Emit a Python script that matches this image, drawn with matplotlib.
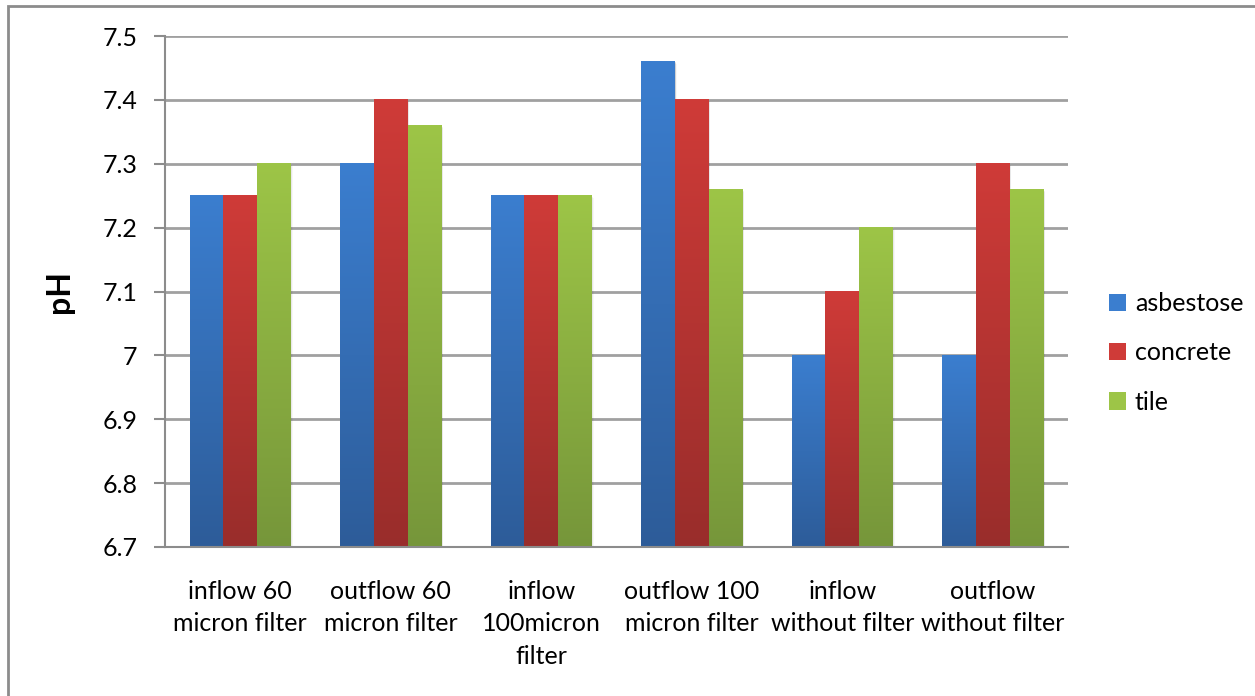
import numpy as np
import matplotlib.pyplot as plt
import matplotlib.patches as mpatches
from matplotlib.colors import LinearSegmentedColormap

plt.rcParams['font.family'] = ['Lato', 'DejaVu Sans']

# pH measurements for each roof material
categories = ['inflow 60\nmicron filter', 'outflow 60\nmicron filter', 'inflow\n100micron\nfilter',
              'outflow 100\nmicron filter', 'inflow\nwithout filter', 'outflow\nwithout filter']
asbestose = [7.25, 7.30, 7.25, 7.46, 7.00, 7.00]
concrete = [7.25, 7.40, 7.25, 7.40, 7.10, 7.30]
tile = [7.30, 7.36, 7.25, 7.26, 7.20, 7.26]
yticks = [6.7, 6.8, 6.9, 7.0, 7.1, 7.2, 7.3, 7.4, 7.5]
yticklabels = ['6.7', '6.8', '6.9', '7', '7.1', '7.2', '7.3', '7.4', '7.5']

series = [('asbestose', asbestose, '#3b7ecf', '#2d5c99'),
          ('concrete', concrete, '#cf3b38', '#992d2b'),
          ('tile', tile, '#9dc547', '#76963a')]

fig = plt.figure(figsize=(12.55, 6.96), dpi=100)
ax = fig.add_axes([0.1315, 0.2141, 0.7195, 0.7341])

# outer chart border (left and top edges visible)
fig.patches.append(mpatches.Rectangle((8 / 1255, -0.1), 1.2, 1.1 - 6 / 696,
                                      transform=fig.transFigure, fill=False,
                                      edgecolor='#8c8c8c', linewidth=2, zorder=0))

x = np.arange(len(categories))
w = 0.224
base = 6.7
grad = np.linspace(0, 1, 256).reshape(-1, 1)

for i, (name, vals, top, bottom) in enumerate(series):
    offs = (i - 1) * w
    heights = [v - base for v in vals]
    bars = ax.bar(x + offs, heights, w, bottom=base, color='none', edgecolor='none',
                  label=name, zorder=3)
    cmap = LinearSegmentedColormap.from_list(name, [bottom, top])
    for b in bars:
        bx, by = b.get_x(), b.get_y()
        bw, bh = b.get_width(), b.get_height()
        # soft shadow to the right
        for k, a in enumerate([0.10, 0.06, 0.03]):
            ax.add_patch(mpatches.Rectangle((bx + 0.004 * (k + 1), by), bw, bh - 0.002 * k,
                                            facecolor='#000000', alpha=a, edgecolor='none',
                                            zorder=2))
        ax.imshow(grad, extent=(bx, bx + bw, by, by + bh), origin='lower', cmap=cmap,
                  aspect='auto', zorder=3 + i * 0.01, interpolation='bilinear')

# legend proxies with the top colour of each gradient
handles = [mpatches.Patch(facecolor=top, edgecolor='none', label=name)
           for name, _, top, _ in series]

ax.set_xlim(-0.5, len(categories) - 0.5)
ax.set_ylim(6.7, 7.5)
ax.set_yticks(yticks)
ax.set_yticklabels(yticklabels)
ax.set_xticks(x)
ax.set_xticklabels(categories, fontsize=18, linespacing=1.48)
ax.tick_params(axis='x', length=0, pad=24)
ax.tick_params(axis='y', length=8, width=1.5, color='#8c8c8c', labelsize=18, pad=12)
ax.grid(axis='y', color='#a0a0a0', linewidth=2, zorder=1)
ax.set_axisbelow(True)
for s in ['top', 'right']:
    ax.spines[s].set_visible(False)
for s in ['left', 'bottom']:
    ax.spines[s].set_color('#8c8c8c')
    ax.spines[s].set_linewidth(1.5)
    ax.spines[s].set_zorder(5)

ax.set_ylabel('pH', fontsize=23, fontweight='bold', labelpad=20)

ax.legend(handles=handles, loc='center left', bbox_to_anchor=(1.02, 0.38), frameon=False,
          fontsize=18, handlelength=0.7, handleheight=0.7, handletextpad=0.35,
          labelspacing=1.05)

fig.savefig('out.png', dpi=100)
